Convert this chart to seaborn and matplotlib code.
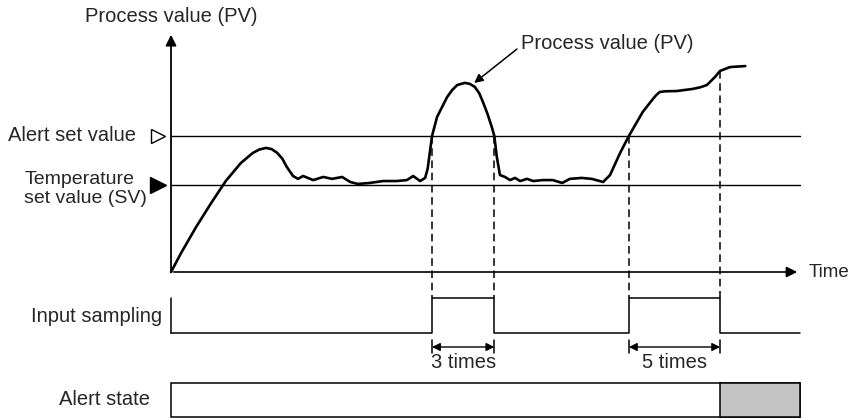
import numpy as np
import matplotlib
matplotlib.use('Agg')
import matplotlib.pyplot as plt
from matplotlib.patches import Rectangle
import seaborn as sns
import pandas as pd

# ---- data (time in % of axis, PV in % of axis) ----
pv_time = [0, 1.6, 4.0, 6.4, 8.7, 11.1, 13.0, 14.0, 15.1, 16.0, 16.9, 17.7,
           18.4, 19.4, 20.2, 21.0, 22.6, 24.2, 25.6, 27.2, 28.5, 29.7, 31.6,
           33.7, 35.9, 37.5, 38.5, 39.6, 40.4, 40.8, 41.2, 41.5, 42.3, 43.9,
           44.7, 45.5, 46.7, 47.5, 48.3, 49.0, 49.6, 50.3, 51.0, 51.4, 51.8,
           52.3, 53.1, 53.9, 54.7, 55.5, 56.6, 57.6, 59.1, 60.7, 62.2, 63.4,
           65.3, 66.9, 68.7, 69.8, 71.4, 72.8, 75.0, 76.5, 77.1, 77.7, 78.6,
           80.4, 83.0, 84.2, 85.2, 86.5, 87.3, 88.9, 91.3]
pv_value = [0, 7.9, 18.8, 28.8, 37.9, 45.4, 49.6, 51.0, 51.7, 51.2, 49.6, 47.2,
            43.8, 40.0, 38.8, 40.0, 38.3, 39.6, 38.8, 39.6, 37.5, 36.7, 37.1,
            37.9, 37.9, 38.3, 40.0, 37.9, 39.2, 43.0, 50.8, 56.7, 64.6, 72.9,
            75.8, 77.9, 78.8, 78.4, 77.1, 74.5, 70.8, 66.0, 60.4, 56.7, 47.9,
            40.4, 39.6, 38.3, 39.2, 37.9, 38.8, 37.9, 38.3, 38.3, 37.1, 38.8,
            39.2, 38.8, 37.5, 40.4, 49.6, 56.7, 66.7, 71.7, 73.6, 75.0, 75.3,
            75.4, 76.3, 77.0, 77.9, 81.3, 83.8, 85.4, 85.8]
sv_level = 36.25
alert_level = 56.7
time_end = 100
pv_top = 100

# sampling windows (start = alert crossing, end = count reached)
win_start = [41.5, 72.8]
win_end = [51.4, 87.3]
win_labels = ['3 times', '5 times']
alert_on = 87.3

# vertical levels of the lower rows
samp_low, samp_high = -25.4, -10.8
dim_y = -31.25
alert_bot, alert_top = -60.4, -46.25

sns.set_style('white')
plt.rcParams['font.family'] = ['Liberation Sans', 'DejaVu Sans']
FS = 14.5

fig = plt.figure(figsize=(8.52, 4.18), dpi=100)
ax = fig.add_axes([0, 0, 1, 1])

# PV curve
df = pd.DataFrame({'time': pv_time, 'pv': pv_value})
sns.lineplot(data=df, x='time', y='pv', sort=False, color='black', lw=1.9, ax=ax,
             estimator=None)
ax.set_xlim(-27.19, 108.27)
ax.set_ylim(-60.83, 113.33)
ax.axis('off')

# axes arrows
ax.annotate('', xy=(0, pv_top), xytext=(0, -1),
            arrowprops=dict(arrowstyle='-|>', color='black', lw=1.3, mutation_scale=16))
ax.annotate('', xy=(time_end, 0), xytext=(0, 0),
            arrowprops=dict(arrowstyle='-|>', color='black', lw=1.2, mutation_scale=16))
ax.text(0, 106.5, 'Process value (PV)', ha='center', va='center', fontsize=FS)
ax.text(101.3, 0, 'Time', ha='left', va='center', fontsize=13.5)

# set value lines
ax.plot([0, time_end], [alert_level, alert_level], color='black', lw=1.0)
ax.plot([0, time_end], [sv_level, sv_level], color='black', lw=1.0)
ax.plot([-2.1], [alert_level], marker='>', ms=10, mfc='white', mec='black', mew=1.0)
ax.plot([-2.1], [sv_level], marker='>', ms=11, color='black')
ax.text(-5.6, alert_level, 'Alert set value', ha='right', va='center', fontsize=FS)
ax.text(-23.3, sv_level - 1.7, 'Temperature\nset value (SV)', ha='left', va='center',
        fontsize=14, linespacing=1.2)

# callout
ax.annotate('', xy=(48.2, 78.75), xytext=(55.0, 92.9),
            arrowprops=dict(arrowstyle='-|>', color='black', lw=1.1, mutation_scale=13,
                            shrinkA=0, shrinkB=0))
ax.text(69.3, 95.4, 'Process value (PV)', ha='center', va='center', fontsize=FS)

# dashed guide lines
for t in win_start + win_end:
    top = np.interp(t, pv_time, pv_value)
    ax.plot([t, t], [top, samp_high], color='black', lw=1.1, ls=(0, (5, 3)))

# input sampling signal
sx, sy = [0], [samp_low]
for a, b in zip(win_start, win_end):
    sx += [a, a, b, b]
    sy += [samp_low, samp_high, samp_high, samp_low]
sx.append(time_end)
sy.append(samp_low)
ax.plot(sx, sy, color='black', lw=1.1)
ax.plot([0, 0], [samp_high, samp_low], color='black', lw=1.1)
ax.text(-1.4, (samp_low + samp_high) / 2 - 0.5, 'Input sampling', ha='right',
        va='center', fontsize=FS)

# dimension arrows
for a, b, lab in zip(win_start, win_end, win_labels):
    ax.plot([a, a], [dim_y + 3, dim_y - 2.5], color='black', lw=1.1)
    ax.plot([b, b], [dim_y + 3, dim_y - 2.5], color='black', lw=1.1)
    ax.annotate('', xy=(b, dim_y), xytext=(a, dim_y),
                arrowprops=dict(arrowstyle='<|-|>', color='black', lw=1.0,
                                mutation_scale=12, shrinkA=0, shrinkB=0))
    ax.text((a + b) / 2, dim_y - 6.6, lab, ha='center', va='center', fontsize=FS)

# alert state
ax.add_patch(Rectangle((0, alert_bot), time_end, alert_top - alert_bot,
                       facecolor='white', edgecolor='black', lw=1.1))
ax.add_patch(Rectangle((alert_on, alert_bot), time_end - alert_on, alert_top - alert_bot,
                       facecolor='#c4c4c4', edgecolor='black', lw=1.1))
ax.text(-3.3, (alert_bot + alert_top) / 2, 'Alert state', ha='right', va='center',
        fontsize=FS)

fig.savefig('out.png', dpi=100, facecolor='white')
